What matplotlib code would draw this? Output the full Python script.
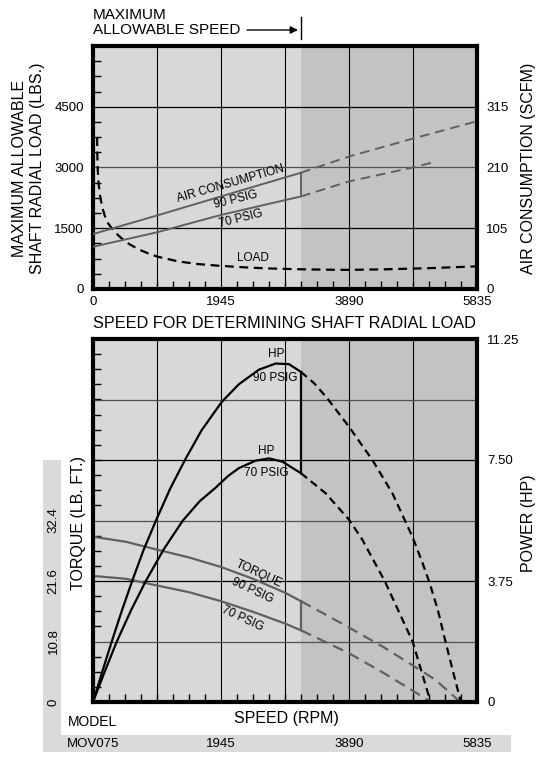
import numpy as np
import matplotlib
matplotlib.use("Agg")
import matplotlib.pyplot as plt
from matplotlib.patches import Rectangle
from matplotlib.lines import Line2D

plt.rcParams['font.family'] = ['Liberation Sans', 'DejaVu Sans']

# ---- data ----
rpm_ticks = [0, 1945, 3890, 5835]
rpm_labels = ["0", "1945", "3890", "5835"]
model_labels = ["MOV075", "1945", "3890", "5835"]
load_ticks = [0, 1500, 3000, 4500]
scfm_ticks = [0, 105, 210, 315]
hp_ticks = [0, 3.75, 7.50, 11.25]
hp_tick_labels = ["0", "3.75", "7.50", "11.25"]
torque_ticks = [0, 10.8, 21.6, 32.4]
max_speed = 3160

# shaft radial load (lbs)
load_rpm = [62, 66, 72, 85, 110, 140, 180, 230, 300, 380, 460, 560, 700, 850, 1000,
            1300, 1600, 1905, 2300, 2610, 3100, 3600, 3890, 4400, 5100, 5835]
load_lbs = [3750, 3300, 2950, 2600, 2280, 2020, 1800, 1620, 1470, 1330, 1215, 1100, 975,
            870, 790, 680, 615, 575, 535, 511, 488, 476, 472, 485, 514, 560]

# air consumption (scfm)
air90_rpm = [0, 972, 1945, 3160]
air90_scfm = [95, 127, 160, 201]
air90_rpm_ext = [3160, 3890, 4862, 5835]
air90_scfm_ext = [201, 229, 260, 290]
air70_rpm = [0, 972, 1945, 3160]
air70_scfm = [73, 98, 128, 160]
air70_rpm_ext = [3160, 3890, 4862, 5200]
air70_scfm_ext = [160, 186, 210, 220]

# power (hp)
hp90_rpm = [0, 150, 285, 440, 595, 770, 957, 1170, 1397, 1650, 1956, 2218, 2522, 2776,
            2978, 3160]
hp90_val = [0, 1.0, 1.875, 2.84, 3.75, 4.72, 5.625, 6.6, 7.5, 8.42, 9.3, 9.85, 10.3,
            10.49, 10.47, 10.23]
hp90_rpm_ext = [3160, 3360, 3561, 3890, 4245, 4549, 4852, 5000, 5117, 5240, 5347, 5470,
                5590]
hp90_val_ext = [10.23, 9.88, 9.41, 8.53, 7.5, 6.47, 5.13, 4.35, 3.68, 2.85, 1.95, 0.95, 0]
hp70_rpm = [0, 180, 362, 580, 802, 1080, 1366, 1620, 1862, 2050, 2218, 2472, 2674,
            2877, 3160]
hp70_val = [0, 0.95, 1.875, 2.85, 3.75, 4.75, 5.625, 6.22, 6.64, 7.0, 7.25, 7.48, 7.55,
            7.45, 7.09]
hp70_rpm_ext = [3160, 3535, 3890, 4093, 4435, 4857, 5130]
hp70_val_ext = [7.09, 6.47, 5.65, 5.03, 3.74, 1.87, 0]

# torque (lb ft)
tq90_rpm = [0, 500, 972, 1460, 1945, 2430, 2920, 3160]
tq90_val = [29.5, 28.6, 27.2, 25.8, 24.1, 22.0, 19.5, 18.0]
tq90_rpm_ext = [3160, 3890, 4400, 4862, 5200, 5580]
tq90_val_ext = [18.0, 13.3, 9.9, 6.5, 4.0, 0]
tq70_rpm = [0, 500, 972, 1460, 1945, 2430, 2920, 3160]
tq70_val = [22.5, 22.0, 20.8, 19.6, 18.0, 16.1, 14.0, 12.8]
tq70_rpm_ext = [3160, 3890, 4400, 4862, 5130]
tq70_val_ext = [12.8, 8.7, 5.3, 2.0, 0]

LIGHT = "#d8d8d8"
DARK = "#c3c3c3"
BAND = "#dadada"
GRAYLINE = "#606060"
W, H = 544, 757


def px_rect(l, t, r, b):
    return [l / W, 1 - b / H, (r - l) / W, (b - t) / H]


def fx(x):
    return x / W


def fy(y):
    return 1 - y / H


def style_frame(ax, xmax, ymax, xminor, yminor, hgrid):
    ax.set_xlim(0, xmax)
    ax.set_ylim(0, ymax)
    ax.axvspan(0, max_speed, color=LIGHT, lw=0, zorder=0)
    ax.axvspan(max_speed, xmax, color=DARK, lw=0, zorder=0)
    for x in [972.5, 1945, 2917.5, 3890, 4862.5]:
        ax.axvline(x, color="black", lw=0.8, zorder=1)
    for y, c in hgrid:
        ax.axhline(y, color=c, lw=0.9, zorder=1)
    ax.set_xticks(np.arange(xminor, xmax - 1, xminor), minor=True)
    ax.set_yticks(np.arange(yminor, ymax - 1, yminor), minor=True)
    ax.tick_params(which="minor", direction="in", length=6, width=1,
                   left=True, right=True, bottom=True, top=False)
    ax.tick_params(which="major", length=0, labelsize=9.5)
    for s in ax.spines.values():
        s.set_linewidth(3)
        s.set_zorder(5)


fig = plt.figure(figsize=(5.44, 7.57), dpi=100)

# ---------------- top chart ----------------
ax1 = fig.add_axes(px_rect(93, 46, 477, 289))
style_frame(ax1, 5835, 6000, 243.125, 375,
            [(1500, "black"), (3000, "#505050"), (4500, "black")])
ax1.set_xticks(rpm_ticks, rpm_labels)
ax1.set_yticks(load_ticks, [str(v) for v in load_ticks])
ax1.tick_params(axis="x", which="major", pad=5)
ax1.tick_params(axis="y", which="major", pad=6.5)
ax1.plot(load_rpm, load_lbs, color="black", lw=1.6, dashes=(4, 2.5), zorder=3)
ax1.text(2434, 758, "LOAD", fontsize=8.5, ha="center", va="center", zorder=4)

axR = ax1.twinx()
axR.set_ylim(0, 420)
axR.set_yticks(scfm_ticks, [str(v) for v in scfm_ticks])
axR.tick_params(length=0, labelsize=9.5, pad=6.5)
for s in axR.spines.values():
    s.set_visible(False)
axR.plot(air90_rpm, air90_scfm, color=GRAYLINE, lw=1.4)
axR.plot(air90_rpm_ext, air90_scfm_ext, color=GRAYLINE, lw=1.4, dashes=(5, 3))
axR.plot(air70_rpm, air70_scfm, color=GRAYLINE, lw=1.4)
axR.plot(air70_rpm_ext, air70_scfm_ext, color=GRAYLINE, lw=1.4, dashes=(5, 3))
axR.plot([max_speed, max_speed], [air70_scfm[-1], air90_scfm[-1]], color=GRAYLINE, lw=1.4)
axR.text(2091, 2596 * 0.07, "AIR CONSUMPTION", fontsize=8.5, rotation=16,
         ha="center", va="center", rotation_mode="anchor")
axR.text(2172, 2217 * 0.07, "90 PSIG", fontsize=8.5, rotation=14,
         ha="center", va="center", rotation_mode="anchor")
axR.text(2247, 1747 * 0.07, "70 PSIG", fontsize=8.5, rotation=14,
         ha="center", va="center", rotation_mode="anchor")

fig.text(fx(28.5), fy(168), "MAXIMUM ALLOWABLE\nSHAFT RADIAL LOAD (LBS.)", rotation=90,
         ha="center", va="center", fontsize=11.5, linespacing=1.25)
fig.text(fx(529), fy(168), "AIR CONSUMPTION (SCFM)", rotation=90,
         ha="center", va="center", fontsize=11.5)

# header with max speed marker
fig.text(fx(93), fy(15), "MAXIMUM", ha="left", va="center", fontsize=11)
fig.text(fx(93), fy(30), "ALLOWABLE SPEED", ha="left", va="center", fontsize=11)
bar_x = 93 + max_speed / 5835 * 384
fig.add_artist(Line2D([fx(bar_x), fx(bar_x)], [fy(17), fy(39)], color="black", lw=1))
ax1.annotate("", xy=(fx(bar_x - 3), fy(30)), xytext=(fx(247), fy(30)),
             xycoords="figure fraction", textcoords="figure fraction",
             arrowprops=dict(arrowstyle="-|>", color="black", lw=1, mutation_scale=11,
                             shrinkA=0, shrinkB=0), annotation_clip=False)

# ---------------- bottom chart ----------------
fig.add_artist(Rectangle((fx(43), fy(735)), fx(61) - fx(43), fy(460) - fy(735),
                         transform=fig.transFigure, color=BAND, lw=0, zorder=0))
fig.add_artist(Rectangle((fx(43), fy(752)), fx(511) - fx(43), fy(735) - fy(752),
                         transform=fig.transFigure, color=BAND, lw=0, zorder=0))

ax2 = fig.add_axes(px_rect(93, 339, 477, 702))
style_frame(ax2, 5835, 64.8, 243.125, 2.7,
            [(10.8, "#505050"), (21.6, "black"), (32.4, "#505050"),
             (43.2, "black"), (54.0, "#505050")])
ax2.set_xticks(rpm_ticks, model_labels)
ax2.tick_params(axis="x", which="major", pad=26)
ax2.set_yticks(torque_ticks, [str(v) for v in torque_ticks])
ax2.tick_params(axis="y", which="major", pad=24, labelrotation=90)
for lab in ax2.get_yticklabels():
    lab.set_va("center")
ax2.plot(tq90_rpm, tq90_val, color=GRAYLINE, lw=1.6, zorder=2)
ax2.plot(tq90_rpm_ext, tq90_val_ext, color=GRAYLINE, lw=1.6, dashes=(5, 3), zorder=2)
ax2.plot(tq70_rpm, tq70_val, color=GRAYLINE, lw=1.6, zorder=2)
ax2.plot(tq70_rpm_ext, tq70_val_ext, color=GRAYLINE, lw=1.6, dashes=(5, 3), zorder=2)
ax2.plot([max_speed, max_speed], [tq70_val[-1], tq90_val[-1]], color=GRAYLINE, lw=1.6, zorder=2)
ax2.text(2514, 22.9, "TORQUE", fontsize=8.5, rotation=-25, ha="center", va="center",
         rotation_mode="anchor", zorder=4)
ax2.text(2423, 19.9, "90 PSIG", fontsize=8.5, rotation=-25, ha="center", va="center",
         rotation_mode="anchor", zorder=4)
ax2.text(2274, 14.9, "70 PSIG", fontsize=8.5, rotation=-25, ha="center", va="center",
         rotation_mode="anchor", zorder=4)

axH = ax2.twinx()
axH.set_ylim(0, 11.25)
axH.set_yticks(hp_ticks, hp_tick_labels)
axH.tick_params(length=0, labelsize=9.5, pad=7.5)
for s in axH.spines.values():
    s.set_visible(False)
axH.plot(hp90_rpm, hp90_val, color="black", lw=1.6)
axH.plot(hp90_rpm_ext, hp90_val_ext, color="black", lw=1.6, dashes=(3.5, 2.2))
axH.plot(hp70_rpm, hp70_val, color="black", lw=1.6)
axH.plot(hp70_rpm_ext, hp70_val_ext, color="black", lw=1.6, dashes=(3.5, 2.2))
axH.plot([max_speed, max_speed], [hp70_val[-1], hp90_val[-1]], color="black", lw=1.6)
axH.text(2776, 10.78, "HP", fontsize=8.5, ha="center", va="center")
axH.text(2776, 10.04, "90 PSIG", fontsize=8.5, ha="center", va="center")
axH.text(2634, 7.78, "HP", fontsize=8.5, ha="center", va="center")
axH.text(2634, 7.09, "70 PSIG", fontsize=8.5, ha="center", va="center")

fig.text(fx(284), fy(324), "SPEED FOR DETERMINING SHAFT RADIAL LOAD",
         ha="center", va="center", fontsize=11.7)
fig.text(fx(286), fy(718), "SPEED (RPM)", ha="center", va="center", fontsize=11.5)
fig.text(fx(68), fy(722), "MODEL", ha="left", va="center", fontsize=10)
fig.text(fx(78), fy(523), "TORQUE (LB. FT.)", rotation=90, ha="center", va="center", fontsize=11.5)
fig.text(fx(529), fy(523), "POWER (HP)", rotation=90, ha="center", va="center", fontsize=11.5)

fig.savefig("out.png", dpi=100)
